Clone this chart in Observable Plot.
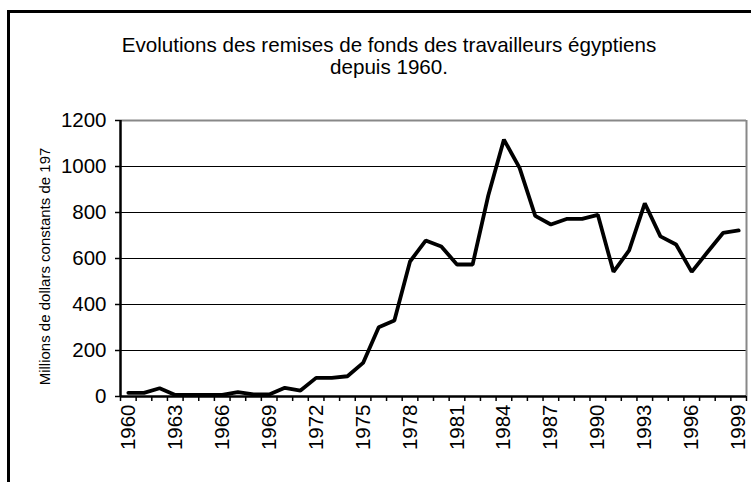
<!DOCTYPE html>
<html>
<head>
<meta charset="utf-8">
<script src="https://cdn.jsdelivr.net/npm/d3@7"></script>
<script src="https://cdn.jsdelivr.net/npm/@observablehq/plot@0.6"></script>
<style>
  html, body { margin: 0; padding: 0; background: #fff; }
  #wrap { position: relative; width: 751px; height: 482px; overflow: hidden; font-family: "Liberation Sans", Arial, sans-serif; }
  #frame { position: absolute; left: 7px; top: 10px; width: 800px; height: 500px; border-left: 3px solid #000; border-top: 3px solid #000; }
  #title { position: absolute; left: 39px; top: 34px; width: 700px; text-align: center; font-size: 20.6px; line-height: 22px; color: #000; }
  #chart { position: absolute; left: 0; top: 0; }
</style>
</head>
<body>
<div id="wrap">
  <div id="frame"></div>
  <div id="title">Evolutions des remises de fonds des travailleurs égyptiens<br>depuis 1960.</div>
  <div id="chart"></div>
</div>
<script>
const years = [1960,1961,1962,1963,1964,1965,1966,1967,1968,1969,
               1970,1971,1972,1973,1974,1975,1976,1977,1978,1979,
               1980,1981,1982,1983,1984,1985,1986,1987,1988,1989,
               1990,1991,1992,1993,1994,1995,1996,1997,1998,1999];
const remittances = [16,16,36,7,7,7,7,19,9,9,
                     38,26,81,81,88,146,301,330,587,678,
                     652,574,574,874,1117,994,785,748,772,772,
                     790,542,635,840,696,661,542,627,711,722];
const xTickLabels = [1960,1963,1966,1969,1972,1975,1978,1981,1984,1987,1990,1993,1996,1999];
const yTicks = [0,200,400,600,800,1000,1200];
const gridValues = [200,400,600,800,1000];
const yLabel = "Millions de dollars constants de 197";

const data = years.map((y, i) => ({year: y, value: remittances[i]}));
const first = years[0] - 0.5, last = years[years.length - 1] + 0.5;
const edgeTicks = d3.range(first, last + 0.01, 1);

const chart = Plot.plot({
  width: 751,
  height: 482,
  marginLeft: 120,
  marginRight: 5,
  marginTop: 120,
  marginBottom: 86,
  style: {fontFamily: "'Liberation Sans', Arial, sans-serif", color: "#000", background: "transparent"},
  x: {type: "linear", domain: [first, last]},
  y: {domain: [0, 1200]},
  marks: [
    Plot.ruleY(gridValues, {stroke: "#000", strokeWidth: 1}),
    Plot.ruleY([1200], {stroke: "#888", strokeWidth: 2}),
    Plot.ruleX([last], {stroke: "#888", strokeWidth: 2}),
    Plot.axisY({ticks: yTicks, tickSize: 5, tickPadding: 9, fontSize: 20.5, label: null, tickFormat: d3.format("d"), strokeWidth: 1.5}),
    Plot.axisX({ticks: edgeTicks, tickSize: 5, tickFormat: () => "", label: null, strokeWidth: 1.5}),
    Plot.axisX({ticks: xTickLabels, tickSize: 0, tickPadding: 8, tickRotate: -90, fontSize: 20.5, label: null, tickFormat: d3.format("d")}),
    Plot.ruleX([first], {stroke: "#000", strokeWidth: 2.5}),
    Plot.ruleY([0], {stroke: "#000", strokeWidth: 2.5}),
    Plot.line(data, {x: "year", y: "value", stroke: "#000", strokeWidth: 3.8, strokeLinejoin: "miter"}),
    Plot.text([yLabel], {frameAnchor: "left", rotate: -90, dx: -75, dy: 8, textAnchor: "middle", fontSize: 15, text: d => d})
  ]
});
document.getElementById("chart").appendChild(chart);
</script>
</body>
</html>
